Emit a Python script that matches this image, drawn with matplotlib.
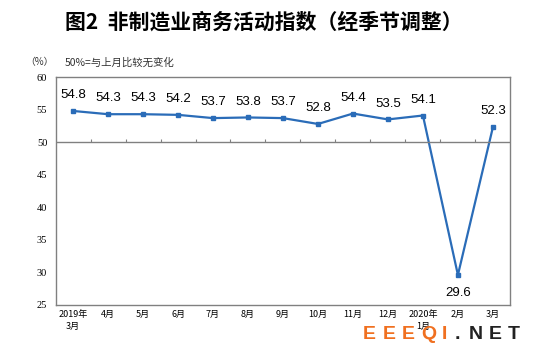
import matplotlib
matplotlib.use("Agg")
import matplotlib.pyplot as plt
import numpy as np

plt.rcParams['font.family'] = ['Noto Sans CJK SC', 'DejaVu Sans']

# monthly non-manufacturing business activity index (seasonally adjusted)
months = ['2019年\n3月', '4月', '5月', '6月', '7月', '8月', '9月', '10月',
          '11月', '12月', '2020年\n1月', '2月', '3月']
values = [54.8, 54.3, 54.3, 54.2, 53.7, 53.8, 53.7, 52.8, 54.4, 53.5, 54.1, 29.6, 52.3]
y_ticks = [25, 30, 35, 40, 45, 50, 55, 60]

line_color = '#2a6cb8'


def main():
    fig = plt.figure(figsize=(5.5, 3.57), dpi=100)
    ax = fig.add_axes([0.101, 0.146, 0.827, 0.638])

    x = np.arange(len(values))
    ax.plot(x, values, color=line_color, lw=1.6, marker='s', markersize=3.5)

    # value labels, the February dip gets its label underneath
    for xi, v in zip(x, values):
        if v < 40:
            ax.annotate(f'{v}', (xi, v), xytext=(0, -9), textcoords='offset points',
                        ha='center', va='top', fontsize=9.5, family='Liberation Sans')
        else:
            ax.annotate(f'{v}', (xi, v), xytext=(0, 7), textcoords='offset points',
                        ha='center', va='bottom', fontsize=9.5, family='Liberation Sans')

    # 50 reference line with category boundary ticks
    ax.axhline(50, color='#808080', lw=1)
    ax.vlines(np.arange(len(values) - 1) + 0.5, 50, 50.5, color='#808080', lw=0.8)

    ax.set_xlim(-0.5, len(values) - 0.5)
    ax.set_ylim(25, 60)
    ax.set_yticks(y_ticks)
    ax.set_yticklabels([str(t) for t in y_ticks], family='Liberation Serif', fontsize=7.5)
    ax.set_xticks(x)
    ax.set_xticklabels(months, fontsize=6.5, linespacing=1.3)
    ax.tick_params(axis='both', length=0, pad=6)
    ax.tick_params(axis='x', pad=4)
    for s in ax.spines.values():
        s.set_color('#808080')
        s.set_linewidth(1)

    fig.text(0.48, 0.938, '图2  非制造业商务活动指数（经季节调整）', ha='center', va='center',
             fontsize=15, fontweight='bold')
    fig.text(0.045, 0.826, '（%）', ha='left', va='center', fontsize=7, color='#333333')
    fig.text(0.118, 0.826, '50%=与上月比较无变化', ha='left', va='center', fontsize=7.5,
             color='#333333')

    # watermark, letter-spaced like the original
    mark = 'EEEQI.NET'
    mark_x = [0.66, 0.695, 0.73, 0.766, 0.804, 0.826, 0.853, 0.889, 0.923]
    for ch, mx, i in zip(mark, mark_x, range(len(mark))):
        fig.text(mx, 0.064, ch, ha='left', va='center', fontsize=14, fontweight='bold',
                 color='#f07020' if i < 5 else '#222222', family='Liberation Sans')

    fig.savefig('out.png', dpi=100, facecolor='white')


if __name__ == "__main__":
    main()
